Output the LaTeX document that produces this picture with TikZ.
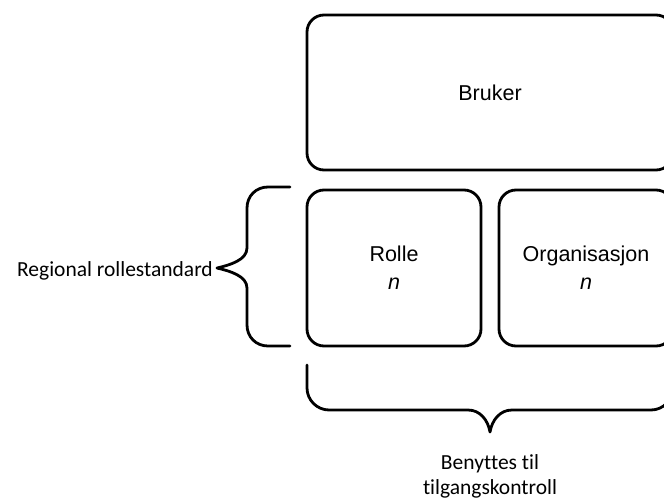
\documentclass[tikz,border=0pt]{standalone}
\usepackage{fontspec}
\setmainfont{Liberation Sans}
\newfontfamily\calib[Ligatures={NoCommon}]{Carlito}
\begin{document}
\begin{tikzpicture}[x=1pt,y=-1pt,
  box/.style={draw=black, line width=2.8pt, rounded corners=17pt, inner sep=0pt,
    align=center, font=\fontsize{21.5}{28}\selectfont},
  bracestroke/.style={draw=black, line width=2.8pt, line cap=round, line join=round},
  bracelabel/.style={inner sep=0pt, align=center, font=\calib\fontsize{21.5}{25}\selectfont}]
\useasboundingbox (0,0) rectangle (664,498);
\clip (0,0) rectangle (664,498);
\node[box, minimum width=366pt, minimum height=155pt] (bruker) at (490,92.5) {Bruker};
\node[box, minimum width=174pt, minimum height=156pt] (rolle) at (394,268) {Rolle\\\textit{n}};
\node[box, minimum width=174pt, minimum height=156pt] (org) at (586,268) {Organisasjon\\\textit{n}};
% left brace
\coordinate (lbt) at (290,187);
\coordinate (lbb) at (290,346);
\coordinate (lbtip) at (217,268);
\draw[bracestroke] (lbt) -- (268,187) .. controls (256,187) and (247,196) .. (247,208)
  -- (247,248) .. controls (247,260) and (230,265) .. (lbtip)
  .. controls (230,271) and (247,276) .. (247,288)
  -- (247,325) .. controls (247,337) and (256,346) .. (268,346) -- (lbb);
\node[bracelabel, anchor=base east] (regional) at (213,276) {Regional rollestandard};
% bottom brace
\coordinate (bbl) at (307,365);
\coordinate (bbr) at (673,365);
\coordinate (bbtip) at (490,432);
\draw[bracestroke] (bbl) -- (307,388) .. controls (307,400) and (317,410) .. (329,410)
  -- (468,410) .. controls (480,410) and (488,420) .. (bbtip)
  .. controls (492,420) and (500,410) .. (512,410)
  -- (651,410) .. controls (663,410) and (673,400) .. (673,388) -- (bbr);
\node[bracelabel, anchor=north] (benyttes) at (490,454) {Benyttes til\\tilgangskontroll};
\end{tikzpicture}
\end{document}
